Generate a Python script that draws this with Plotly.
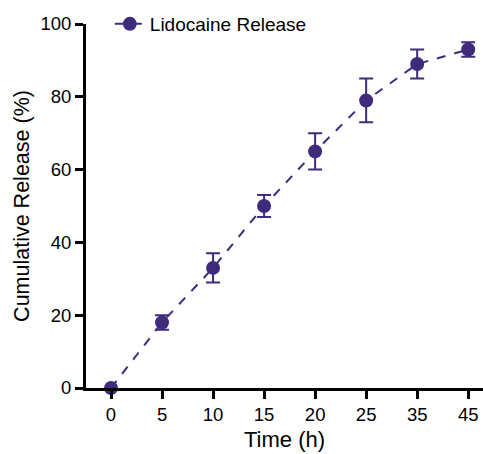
import plotly.graph_objects as go

times = ["0", "5", "10", "15", "20", "25", "35", "45"]
release = [0, 18, 33, 50, 65, 79, 89, 93]
err_up = [0, 2, 4, 3, 5, 6, 4, 2]
err_down = [0, 2, 4, 3, 5, 6, 4, 2]

color = "#3f2a7c"

fig = go.Figure()
fig.add_trace(go.Scatter(
    x=times, y=release, mode="lines+markers", name="Lidocaine Release",
    line=dict(color=color, width=2, dash="dash"),
    marker=dict(color=color, size=14),
    error_y=dict(type="data", symmetric=False, array=err_up, arrayminus=err_down,
                 color=color, thickness=2, width=7),
    cliponaxis=False,
))

fig.update_layout(
    width=483, height=454,
    margin=dict(l=86, r=0, t=24, b=66),
    plot_bgcolor="white", paper_bgcolor="white",
    font=dict(family="Liberation Sans, Arial, sans-serif", size=19, color="black"),
    showlegend=True,
    legend=dict(x=0.06, y=1.0, xanchor="left", yanchor="middle", bgcolor="rgba(0,0,0,0)",
                font=dict(size=19)),
    xaxis=dict(type="category", range=[-0.49, 7.29], showline=True, linewidth=3,
               linecolor="black", ticks="outside", ticklen=8, tickwidth=3,
               tickcolor="black", showgrid=False, zeroline=False,
               tickfont=dict(size=18.5),
               title=dict(text="Time (h)", font=dict(size=22), standoff=8)),
    yaxis=dict(range=[0, 100], tickvals=[0, 20, 40, 60, 80, 100], showline=True,
               linewidth=3, linecolor="black", ticks="outside", ticklen=8,
               tickwidth=3, tickcolor="black", showgrid=False, zeroline=False,
               tickfont=dict(size=18.5),
               title=dict(text="Cumulative Release (%)", font=dict(size=21.5), standoff=5)),
)

fig.write_html("out.html")
